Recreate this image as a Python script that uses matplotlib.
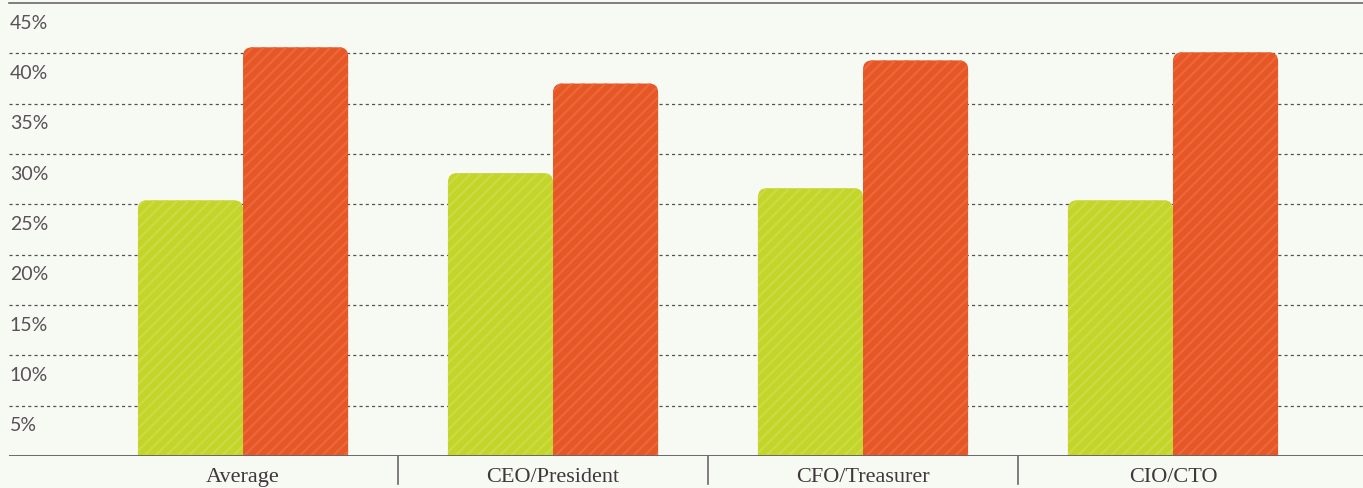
import matplotlib.pyplot as plt
from matplotlib.patches import FancyBboxPatch
from matplotlib.transforms import blended_transform_factory, offset_copy

categories = ['Average', 'CEO/President', 'CFO/Treasurer', 'CIO/CTO']
green_vals = [25.4, 28.1, 26.6, 25.4]
orange_vals = [40.6, 37.0, 39.3, 40.1]
yticks = [5, 10, 15, 20, 25, 30, 35, 40, 45]

bg = '#f7faf3'
green = '#c4d52a'
green_hatch = '#ccdb45'
orange = '#e75726'
orange_hatch = '#eb683c'
text_col = '#5a5058'
line_col = '#6b666c'

plt.rcParams['hatch.linewidth'] = 1.6

fig = plt.figure(figsize=(13.63, 4.88), dpi=100, facecolor=bg)
ax = fig.add_axes([9 / 1363, 32 / 488, 1 - 9 / 1363, 453 / 488])
ax.set_facecolor(bg)
ax.set_xlim(-0.755, 3.613)
ax.set_ylim(0, 45)
for s in ax.spines.values():
    s.set_visible(False)
ax.set_xticks([])
ax.set_yticks([])

# gridlines
for v in yticks[:-1]:
    ax.axhline(v, color='#555055', lw=0.9, ls=(0, (2.5, 2.5)), zorder=1)
ax.axhline(45, color=line_col, lw=1.2, zorder=1, clip_on=False)
ax.axhline(0, color=line_col, lw=1.4, zorder=4)

# y labels just below each line
trans = blended_transform_factory(ax.transAxes, ax.transData)
lab_trans = offset_copy(trans, fig=fig, x=0.5, y=-8.5, units='points')
for v in yticks:
    ax.text(0, v, f'{v}%', transform=lab_trans, ha='left', va='top',
            fontsize=14, color=text_col, family='Lato')

# bars with rounded tops
w = 0.339
px_x = 4.368 / 1354
px_y = 45 / 453
aspect = px_y / px_x
r = 9 * px_x


def rbar(x0, h, fc, hc, z):
    p = FancyBboxPatch((x0, -5), w, h + 5,
                       boxstyle=f'round,pad=0,rounding_size={r}',
                       mutation_aspect=aspect, facecolor=fc, edgecolor=hc,
                       linewidth=0, hatch='///', zorder=z)
    ax.add_patch(p)


for i in range(len(categories)):
    rbar(i - w, green_vals[i], green, green_hatch, 3)
    rbar(i, orange_vals[i], orange, orange_hatch, 2)

# category labels and separators
for i, c in enumerate(categories):
    ax.text(i, -2.1, c, ha='center', va='center', fontsize=16,
            family='Liberation Serif', color='#40363e')
btrans = blended_transform_factory(ax.transData, ax.transAxes)
for i in range(len(categories) - 1):
    ax.plot([i + 0.5, i + 0.5], [0, -28 / 453], transform=btrans,
            color=line_col, lw=1.2, clip_on=False)

fig.savefig('out.png', dpi=100, facecolor=bg)
